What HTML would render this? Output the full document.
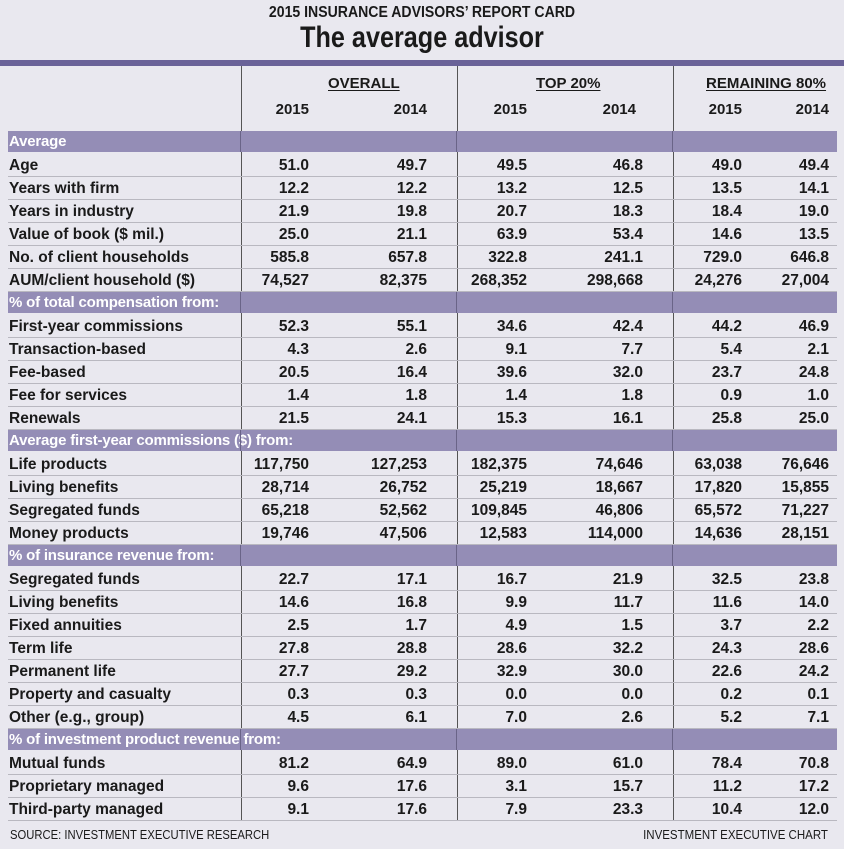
<!DOCTYPE html>
<html><head><meta charset="utf-8"><style>
*{margin:0;padding:0;box-sizing:border-box}
body{width:844px;height:849px;background:#e9e8ef;position:relative;overflow:hidden;font-family:"Liberation Sans Narrow","Liberation Sans",sans-serif;font-weight:bold;color:#1a1a1a}
.a{position:absolute;white-space:nowrap}
.band{position:absolute;left:0;width:844px;top:60px;height:6px;background:#6a6298}
.vl{position:absolute;top:66px;height:755px;width:1px;background:#555}
.sec{position:absolute;left:8px;width:829px;height:21px;background:#948db6;color:#fff;font-size:15px;line-height:21px;padding-left:1px;letter-spacing:-0.2px}
.row{position:absolute;left:8px;width:829px;height:23px;border-bottom:1px solid #b9b8c0;font-size:15.5px;line-height:23px}
.row span{position:absolute;top:0}
.l{left:1px}
.n{text-align:right}
.h{font-size:15px;text-decoration:underline;text-underline-offset:2px}
</style></head><body>
<div class="a" style="left:0;width:844px;top:4px;text-align:center;font-size:16px;transform:scaleX(0.88)">2015 INSURANCE ADVISORS’ REPORT CARD</div>
<div class="a" style="left:0;width:844px;top:21px;text-align:center;font-size:30px;transform:scaleX(0.84)">The average advisor</div>
<div class="band"></div>
<div class="a h" style="left:328px;top:75px">OVERALL</div>
<div class="a h" style="left:536px;top:75px">TOP 20%</div>
<div class="a h" style="left:706px;top:75px">REMAINING 80%</div>
<div class="a" style="right:535px;top:101px;font-size:15px">2015</div>
<div class="a" style="right:417px;top:101px;font-size:15px">2014</div>
<div class="a" style="right:317px;top:101px;font-size:15px">2015</div>
<div class="a" style="right:208px;top:101px;font-size:15px">2014</div>
<div class="a" style="right:102px;top:101px;font-size:15px">2015</div>
<div class="a" style="right:15px;top:101px;font-size:15px">2014</div>
<div class="vl" style="left:241px"></div>
<div class="vl" style="left:457px"></div>
<div class="vl" style="left:673px"></div>
<div id="t"></div>
<div class="a" style="left:10px;top:828px;font-size:12.5px;font-weight:normal;font-family:'Liberation Sans',sans-serif;transform:scaleX(0.9);transform-origin:left">SOURCE: INVESTMENT EXECUTIVE RESEARCH</div>
<div class="a" style="right:16px;top:828px;font-size:12.5px;font-weight:normal;font-family:'Liberation Sans',sans-serif;transform:scaleX(0.92);transform-origin:right">INVESTMENT EXECUTIVE CHART</div>
<script>
var d=[
["#Average"],
["Age","51.0","49.7","49.5","46.8","49.0","49.4"],
["Years with firm","12.2","12.2","13.2","12.5","13.5","14.1"],
["Years in industry","21.9","19.8","20.7","18.3","18.4","19.0"],
["Value of book ($ mil.)","25.0","21.1","63.9","53.4","14.6","13.5"],
["No. of client households","585.8","657.8","322.8","241.1","729.0","646.8"],
["AUM/client household ($)","74,527","82,375","268,352","298,668","24,276","27,004"],
["#% of total compensation from:"],
["First-year commissions","52.3","55.1","34.6","42.4","44.2","46.9"],
["Transaction-based","4.3","2.6","9.1","7.7","5.4","2.1"],
["Fee-based","20.5","16.4","39.6","32.0","23.7","24.8"],
["Fee for services","1.4","1.8","1.4","1.8","0.9","1.0"],
["Renewals","21.5","24.1","15.3","16.1","25.8","25.0"],
["#Average first-year commissions ($) from:"],
["Life products","117,750","127,253","182,375","74,646","63,038","76,646"],
["Living benefits","28,714","26,752","25,219","18,667","17,820","15,855"],
["Segregated funds","65,218","52,562","109,845","46,806","65,572","71,227"],
["Money products","19,746","47,506","12,583","114,000","14,636","28,151"],
["#% of insurance revenue from:"],
["Segregated funds","22.7","17.1","16.7","21.9","32.5","23.8"],
["Living benefits","14.6","16.8","9.9","11.7","11.6","14.0"],
["Fixed annuities","2.5","1.7","4.9","1.5","3.7","2.2"],
["Term life","27.8","28.8","28.6","32.2","24.3","28.6"],
["Permanent life","27.7","29.2","32.9","30.0","22.6","24.2"],
["Property and casualty","0.3","0.3","0.0","0.0","0.2","0.1"],
["Other (e.g., group)","4.5","6.1","7.0","2.6","5.2","7.1"],
["#% of investment product revenue from:"],
["Mutual funds","81.2","64.9","89.0","61.0","78.4","70.8"],
["Proprietary managed","9.6","17.6","3.1","15.7","11.2","17.2"],
["Third-party managed","9.1","17.6","7.9","23.3","10.4","12.0"]];
var R=[309,427,527,643,742,829],h="",y=131;
d.forEach(function(r){
 if(r[0][0]=="#"){h+='<div class="sec" style="top:'+y+'px">'+r[0].slice(1)+'<i style="position:absolute;left:232px;top:0;width:1px;height:21px;background:#6a6488"></i><i style="position:absolute;left:448px;top:0;width:1px;height:21px;background:#6a6488"></i><i style="position:absolute;left:664px;top:0;width:1px;height:21px;background:#6a6488"></i></div>';}
 else{h+='<div class="row" style="top:'+y+'px"><span class="l">'+r[0]+'</span>';
  for(var i=0;i<6;i++)h+='<span class="n" style="right:'+(837-R[i])+'px">'+r[i+1]+'</span>';
  h+='</div>';}
 y+=23;});
document.getElementById("t").innerHTML=h;
</script>
</body></html>
